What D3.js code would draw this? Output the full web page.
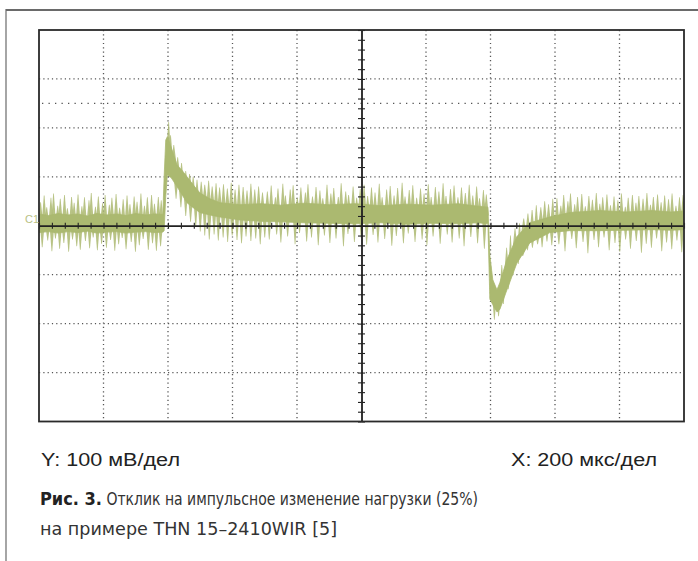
<!DOCTYPE html>
<html>
<head>
<meta charset="utf-8">
<script src="https://cdn.jsdelivr.net/npm/d3@7"></script>
<style>
  body { margin: 0; background: #fff; }
  svg { display: block; }
</style>
</head>
<body>
<svg id="chart" width="698" height="561"></svg>
<script>
// time axis in microseconds, voltage in mV (200 us/div, 100 mV/div)
var envT = [0, 30, 60, 90, 120, 150, 180, 210, 240, 270, 300, 330, 360, 384,
  388, 393, 398, 410, 428, 445, 459, 480, 499, 530, 561, 623, 690, 750, 820, 900,
  980, 1060, 1140, 1220, 1300, 1360, 1392,
  1398, 1407, 1420, 1429, 1451, 1482, 1522, 1584, 1646, 1739, 1820, 1900, 1960, 2000];
var envUpper = [24, 21, 25, 22, 24, 20, 25, 22, 24, 21, 25, 22, 24, 23,
  100, 175, 182, 160, 124, 112, 100, 82, 67, 55, 47, 43, 45, 42, 46, 43,
  45, 41, 44, 42, 45, 40, 38,
  -60, -110, -131, -116, -69, -22, 6, 18, 27, 31, 28, 31, 28, 30];
var envLower = [-14, -12, -15, -12, -14, -11, -15, -13, -12, -15, -13, -12, -14, -13,
  -10, 60, 104, 98, 80, 62, 47, 36, 27, 22, 18, 12, 9, 8, 6, 5,
  4, 6, 3, 5, 4, 6, 4,
  -150, -161, -176, -171, -131, -76, -35, -14, -10, -10, -9, -8, -9, -8];

// noise spikes [time, tip]
var upSpikes = [
  [5,48],[16,62],[24,38],[37,57],[45,66],[58,41],[66,55],[79,63],[88,36],[101,59],
  [109,47],[121,64],[133,40],[141,58],[155,52],[162,67],[175,39],[184,60],[197,46],[205,63],
  [218,43],[226,57],[239,65],[250,37],[261,54],[273,62],[282,44],[295,60],[304,49],[316,66],
  [327,41],[336,58],[349,63],[358,45],[370,59],[379,52],
  [402,212],[408,185],[418,165],[430,140],[442,128],[455,112],[467,106],[478,100],[490,94],
  [503,90],[514,84],[526,92],[537,80],[549,87],[560,78],[572,85],[584,76],[596,88],[608,74],
  [620,84],[633,79],[645,72],[657,86],[669,74],[681,80],[693,68],
  [708,70],[720,82],[733,58],[741,76],[756,86],[764,62],[779,74],[788,83],[801,57],[812,78],
  [826,68],[834,85],[848,60],[859,79],[871,72],[880,56],[893,84],[905,66],[914,77],[928,59],
  [937,87],[951,70],[960,63],[974,80],[985,57],[996,75],[1008,84],[1019,61],[1031,78],[1042,68],
  [1055,86],[1064,58],[1078,74],[1089,81],[1101,62],[1112,77],[1126,88],[1135,60],[1148,73],
  [1159,83],[1171,57],[1183,76],[1194,66],[1207,85],[1216,59],[1229,79],[1240,70],[1253,87],
  [1262,61],[1276,75],[1287,82],[1299,58],[1310,78],[1322,67],[1334,84],[1345,62],[1357,80],
  [1366,56],[1378,73],[1387,64],
  [1435,-80],[1450,-45],[1462,-20],[1476,-5],[1490,5],[1503,15],[1516,25],[1529,32],[1542,42],
  [1556,38],[1568,50],[1580,44],[1593,55],
  [1606,56],[1618,41],[1627,63],[1640,50],[1648,66],[1661,44],[1670,59],[1683,65],[1694,40],
  [1705,61],[1716,53],[1728,67],[1739,45],[1748,58],[1761,64],[1772,42],[1783,60],[1795,52],
  [1806,66],[1818,39],[1827,57],[1840,63],[1851,47],[1860,61],[1873,55],[1885,67],[1896,43],
  [1905,59],[1918,64],[1929,48],[1940,62],[1952,54],[1963,66],[1975,41],[1986,58],[1997,63]
];
var downSpikes = [
  [10,-44],[27,-30],[40,-52],[51,-26],[64,-47],[77,-35],[92,-53],[104,-28],[117,-42],[128,-49],
  [144,-31],[157,-46],[168,-24],[181,-50],[194,-37],[209,-45],[222,-29],[235,-51],[247,-38],
  [258,-25],[270,-48],[286,-33],[299,-53],[311,-40],[323,-27],[339,-49],[352,-36],[364,-51],[377,-42],
  [425,55],[440,38],[455,20],[470,8],[486,-2],[500,-12],[514,-20],[528,-28],[543,-18],[556,-30],
  [571,-24],[585,-33],[599,-20],[614,-29],[628,-36],[642,-22],[657,-31],[672,-26],[686,-38],[700,-24],
  [714,-28],[737,-18],[750,-34],[771,-22],[794,-38],[808,-15],[830,-32],[845,-24],[866,-40],
  [885,-20],[902,-35],[921,-26],[944,-42],[958,-17],[978,-33],[999,-25],[1016,-39],[1036,-19],
  [1051,-34],[1072,-27],[1094,-41],[1108,-21],[1130,-36],[1145,-16],[1166,-33],[1188,-28],
  [1203,-40],[1222,-22],[1244,-37],[1266,-18],[1281,-34],[1303,-26],[1318,-42],[1339,-23],
  [1360,-36],[1381,-47],
  [1412,-192],[1425,-185],[1440,-160],[1455,-130],[1470,-100],[1486,-78],[1500,-62],[1515,-50],
  [1530,-45],[1546,-38],[1560,-44],[1575,-32],[1590,-40],
  [1612,-38],[1631,-52],[1652,-27],[1666,-46],[1687,-33],[1702,-56],[1721,-29],[1735,-44],
  [1752,-24],[1768,-50],[1786,-35],[1801,-53],[1819,-28],[1834,-47],[1852,-31],[1868,-55],
  [1883,-37],[1899,-45],[1915,-26],[1931,-52],[1946,-34],[1962,-48],[1978,-30],[1993,-54]
];

var gridX = [200, 400, 600, 800, 1200, 1400, 1600, 1800];
var gridY = [300, 200, 100, -100, -200, -300];
var extraGridY = [250];

var yLabel = "Y: 100 мВ/дел",
  xLabel = "X: 200 мкс/дел",
  figNum = "Рис. 3.",
  captionLine1 = " Отклик на импульсное изменение нагрузки (25%)",
  captionLine2 = "на примере THN 15–2410WIR [5]";

var svg = d3.select("#chart"),
  plot = {left: 39, top: 30, right: 684, bottom: 421.5},
  traceColor = "#abb970",
  sans = "'Liberation Sans', Arial, sans-serif",
  narrow = "'DejaVu Sans', sans-serif";

var x = d3.scaleLinear().domain([0, 2000]).range([plot.left, plot.right]);
var y = d3.scaleLinear().domain([-400, 400]).range([plot.bottom, plot.top]);

// outer page frame
svg.append("line")
  .attr("x1", 6).attr("x2", 698).attr("y1", 10).attr("y2", 10)
  .attr("stroke", "#6a6a6a").attr("stroke-width", 2.2);
svg.append("line")
  .attr("x1", 6).attr("x2", 6).attr("y1", 9).attr("y2", 561)
  .attr("stroke", "#6a6a6a").attr("stroke-width", 1.2);

// dotted grid
var grid = svg.append("g").attr("stroke", "#555").attr("stroke-width", 1.3);
grid.selectAll("line.gx")
  .data(gridX)
  .enter().append("line")
  .attr("class", "gx")
  .attr("x1", function(d) { return x(d); })
  .attr("x2", function(d) { return x(d); })
  .attr("y1", plot.top).attr("y2", plot.bottom)
  .attr("stroke-dasharray", "1.2,3.1");
grid.selectAll("line.gy")
  .data(gridY)
  .enter().append("line")
  .attr("class", "gy")
  .attr("y1", function(d) { return y(d); })
  .attr("y2", function(d) { return y(d); })
  .attr("x1", plot.left).attr("x2", plot.right)
  .attr("stroke-dasharray", "1.2,3.1");
grid.selectAll("line.gy2")
  .data(extraGridY)
  .enter().append("line")
  .attr("class", "gy2")
  .attr("y1", function(d) { return y(d); })
  .attr("y2", function(d) { return y(d); })
  .attr("x1", plot.left + 3).attr("x2", plot.right)
  .attr("stroke-dasharray", "1.3,5.2");

// trace
svg.append("defs").append("clipPath")
  .attr("id", "clip")
  .append("rect")
  .attr("x", plot.left).attr("y", plot.top)
  .attr("width", plot.right - plot.left)
  .attr("height", plot.bottom - plot.top);

var trace = svg.append("g").attr("clip-path", "url(#clip)");

var bis = d3.bisector(function(d) { return d; }).left;
function baseAt(t) {
  var i = Math.min(bis(envT, t), envT.length - 1);
  if (i > 0 && t - envT[i - 1] < envT[i] - t) i = i - 1;
  return (envUpper[i] + envLower[i]) / 2;
}
function spikePath(d) {
  var bx = x(d[0]), by = y(baseAt(d[0])), ty = y(d[1]);
  return "M" + (bx - 2.5) + "," + by + "L" + (bx - 0.35) + "," + ty +
    "L" + (bx + 0.35) + "," + ty + "L" + (bx + 2.5) + "," + by + "Z";
}

trace.selectAll("path.up")
  .data(upSpikes)
  .enter().append("path")
  .attr("class", "up")
  .attr("d", spikePath)
  .attr("fill", traceColor)
  .attr("fill-opacity", 0.85);

trace.selectAll("path.down")
  .data(downSpikes)
  .enter().append("path")
  .attr("class", "down")
  .attr("d", spikePath)
  .attr("fill", traceColor)
  .attr("fill-opacity", 0.85);

var band = d3.area()
  .x(function(d, i) { return x(envT[i]); })
  .y0(function(d, i) { return y(envLower[i]); })
  .y1(function(d, i) { return y(envUpper[i]); });

trace.append("path")
  .datum(envT)
  .attr("d", band)
  .attr("fill", traceColor)
  .attr("stroke", traceColor)
  .attr("stroke-width", 0.8);

// centre axes with minor ticks
var axisColor = "#222";
var ticksX = d3.range(0, 2001, 40);
var ticksY = d3.range(-400, 401, 20);

function styleAxis(sel) {
  sel.selectAll("path").attr("stroke", axisColor).attr("stroke-width", 1.4);
  sel.selectAll("line").attr("stroke", axisColor).attr("stroke-width", 1.1);
  sel.selectAll("text").remove();
}

svg.append("g")
  .attr("transform", "translate(0," + y(0) + ")")
  .call(d3.axisBottom(x).tickValues(ticksX).tickSize(3).tickSizeOuter(0).tickFormat(""))
  .call(styleAxis);
svg.append("g")
  .attr("transform", "translate(0," + y(0) + ")")
  .call(d3.axisTop(x).tickValues(ticksX).tickSize(3).tickSizeOuter(0).tickFormat(""))
  .call(styleAxis);
svg.append("g")
  .attr("transform", "translate(" + x(1000) + ",0)")
  .call(d3.axisLeft(y).tickValues(ticksY).tickSize(3.5).tickSizeOuter(0).tickFormat(""))
  .call(styleAxis);
svg.append("g")
  .attr("transform", "translate(" + x(1000) + ",0)")
  .call(d3.axisRight(y).tickValues(ticksY).tickSize(3.5).tickSizeOuter(0).tickFormat(""))
  .call(styleAxis);

// plot frame
svg.append("rect")
  .attr("x", plot.left).attr("y", plot.top)
  .attr("width", plot.right - plot.left)
  .attr("height", plot.bottom - plot.top)
  .attr("fill", "none")
  .attr("stroke", "#2a2a2a")
  .attr("stroke-width", 1.8);

// channel marker
svg.append("text")
  .attr("x", 25).attr("y", y(0) - 3)
  .attr("font-family", sans)
  .attr("font-size", 11)
  .attr("fill", "#b8c184")
  .text("C1");

// scale labels
svg.append("text")
  .attr("x", 41).attr("y", 466)
  .attr("font-family", sans)
  .attr("font-size", 18)
  .attr("textLength", 139)
  .attr("lengthAdjust", "spacingAndGlyphs")
  .attr("fill", "#222")
  .text(yLabel);
svg.append("text")
  .attr("x", 511).attr("y", 466)
  .attr("font-family", sans)
  .attr("font-size", 18)
  .attr("textLength", 146)
  .attr("lengthAdjust", "spacingAndGlyphs")
  .attr("fill", "#222")
  .text(xLabel);

// caption in a condensed face
var cap = svg.append("text")
  .attr("x", 40).attr("y", 505)
  .attr("font-family", narrow)
  .attr("font-stretch", "condensed")
  .attr("font-size", 18)
  .attr("fill", "#333");
cap.append("tspan").attr("font-weight", "bold").attr("fill", "#222")
  .attr("textLength", 62).attr("lengthAdjust", "spacingAndGlyphs")
  .text(figNum);
cap.append("tspan")
  .attr("textLength", 376).attr("lengthAdjust", "spacingAndGlyphs")
  .text(captionLine1);

svg.append("text")
  .attr("x", 40).attr("y", 535)
  .attr("font-family", narrow)
  .attr("font-stretch", "condensed")
  .attr("font-size", 18)
  .attr("textLength", 297)
  .attr("lengthAdjust", "spacingAndGlyphs")
  .attr("fill", "#333")
  .text(captionLine2);
</script>
</body>
</html>
